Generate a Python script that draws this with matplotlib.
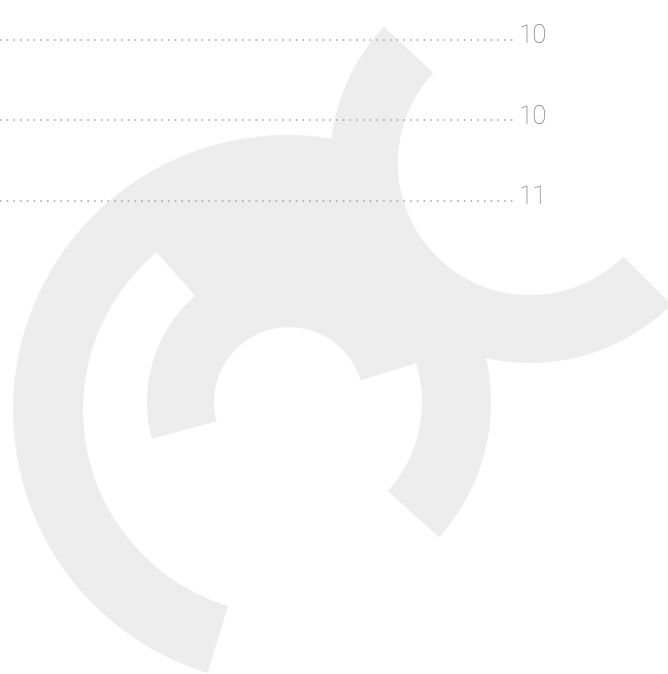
import numpy as np
import matplotlib
matplotlib.use('Agg')
import matplotlib.pyplot as plt
from matplotlib.patches import Wedge, Circle


# chart values (row order, top to bottom)
rows   = [0, 1, 2]
values = [10, 10, 11]

W, H   = 668, 674
GREY   = '#ededed'


def logo(bg):
    # decorative watermark behind the chart, pixel coords (y from bottom)
    c1  = (289, H - 402)
    c1b = (288, H - 410)
    c2  = (530, H - 163)
    parts = [
        Wedge(c1b, 275, 72, 253, width=70),    # outer C
        Wedge(c1, 142, 17, 195, width=67),     # middle ring
        Wedge(c1, 206, 17, 131.5, width=131),  # top filler
        Wedge(c1, 202, -42, 40, width=69),     # lower right arc
        Wedge(c2, 200, 137, 315, width=68),    # upper right ring
    ]
    for p in parts:
        p.set_facecolor(GREY)
        p.set_edgecolor('none')
        bg.add_patch(p)
    bg.add_patch(Circle(c2, 132, facecolor='white', edgecolor='none'))


def main():
    fig = plt.figure(figsize=(W / 100, H / 100), dpi=100)

    bg = fig.add_axes([0, 0, 1, 1])
    bg.set_xlim(0, W)
    bg.set_ylim(0, H)
    bg.axis('off')
    logo(bg)

    ax = fig.add_axes([0, 0, 1, 1])
    ax.patch.set_alpha(0)
    ax.set_xlim(0, W)
    step = 80.35
    ax.set_ylim((H - 40) / step, -40 / step)
    ax.axis('off')

    line_end = 515
    ax.hlines(rows, 0, line_end, colors='#a0a0a0', linewidth=1.1,
              linestyles=[(0, (1, 3.4))])
    for r, v in zip(rows, values):
        ax.text(line_end + 4, r + 0.04, str(v), fontsize=18.5, color='#7a7a7a',
                family='Roboto', fontweight='light', ha='left', va='baseline')

    fig.savefig('out.png', dpi=100, facecolor='white')
    plt.close(fig)


if __name__ == "__main__":
    main()
